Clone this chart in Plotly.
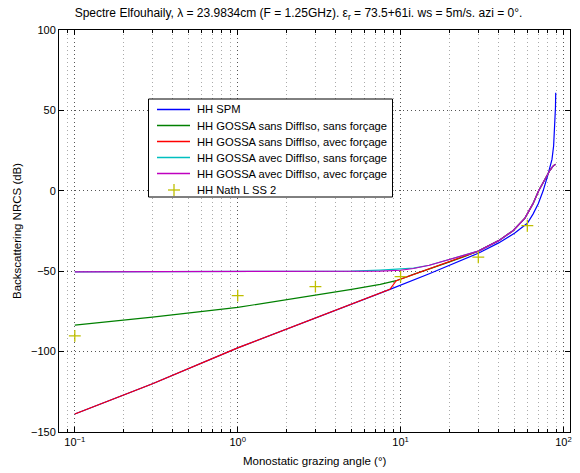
import plotly.graph_objects as go

# HH SPM
spm_angle = [0.1, 0.3, 1, 3, 8.6, 15, 20, 30, 40, 50, 60, 65, 70, 75, 80, 83, 85, 87, 88.5, 89.3, 89.6]
spm_nrcs = [-138.8, -120.0, -97.7, -79.3, -61.3, -51.6, -46.4, -38.8, -32.4, -26.4, -20.2,
            -14.5, -8.0, 0.0, 9.5, 15.0, 19.5, 28.0, 40.0, 52.0, 61.0]

# GOSSA with diffuse iso, forced (upper curve)
avec_angle = [0.1, 1, 3, 5, 7.5, 10, 12, 15, 19, 25, 30, 40, 49, 58, 65, 70.4, 76.8, 80, 82.4, 86, 89.3]
avec_nrcs = [-50.4, -50.4, -50.3, -50.2, -50.0, -49.4, -48.3, -46.3, -43.4, -40.0, -37.5,
             -31.0, -24.8, -17.0, -8.0, 0.0, 7.1, 10.3, 12.6, 15.2, 16.5]

# GOSSA with diffuse iso, not forced (differs only around 5-12 deg)
avec_sf_angle = [0.1, 1, 3, 5, 7.5, 9, 10, 12, 15]
avec_sf_nrcs = [-50.4, -50.4, -50.3, -50.0, -49.3, -48.9, -48.7, -48.1, -46.3]

# GOSSA without diffuse iso, not forced
sans_angle = [0.1, 0.3, 1, 3, 5, 7.5, 9.4, 12, 15, 19, 25]
sans_nrcs = [-83.5, -78.6, -72.5, -65.0, -61.3, -58.2, -55.9, -52.0, -48.8, -45.0, -40.6]

# GOSSA without diffuse iso, forced to SPM at low angles
force_angle = [0.1, 0.3, 1, 3, 8.6, 9.4, 12, 15, 19, 25]
force_nrcs = [-138.8, -120.0, -97.7, -79.3, -61.3, -55.9, -52.0, -48.8, -45.0, -40.6]

# Nath L SS 2 reference points
nath_angle = [0.1, 1, 3, 10, 30, 60]
nath_nrcs = [-90.2, -65.2, -59.6, -53.4, -41.3, -21.7]

# common tail above 30 deg
tail_angle = avec_angle[10:]
tail_nrcs = avec_nrcs[10:]

names = ["HH SPM",
         "HH GOSSA sans DiffIso, sans forçage",
         "HH GOSSA sans DiffIso, avec forçage",
         "HH GOSSA avec DiffIso, sans forçage",
         "HH GOSSA avec DiffIso, avec forçage",
         "HH Nath L SS 2"]
colors = ["#0000ff", "#008000", "#ff0000", "#00bfbf", "#bf00bf", "#bfbf00"]

FONT = "Liberation Sans, Arial, Helvetica, sans-serif"

# plot area in pixels (for the hand-made legend and axis titles)
L, R, T, B = 59, 570, 30, 432


def px(x):
    return (x - L) / (R - L)


def py(y):
    return (B - y) / (B - T)


fig = go.Figure()
series = [
    (spm_angle, spm_nrcs),
    (sans_angle + tail_angle, sans_nrcs + tail_nrcs),
    (force_angle + tail_angle, force_nrcs + tail_nrcs),
    (avec_sf_angle + avec_angle[8:], avec_sf_nrcs + avec_nrcs[8:]),
    (avec_angle, avec_nrcs),
]
for (xs, ys), name, col in zip(series, names, colors):
    fig.add_trace(go.Scatter(x=xs, y=ys, mode="lines", name=name,
                             line=dict(color=col, width=1.2)))
fig.add_trace(go.Scatter(x=nath_angle, y=nath_nrcs, mode="markers", name=names[5],
                         marker=dict(symbol="cross-thin", size=8.5,
                                     line=dict(color=colors[5], width=1.3))))

minor_vals = [m * 10 ** e for e in (-2, -1, 0, 1) for m in range(2, 10)]

fig.update_xaxes(
    type="log", range=[-1.097, 2.04],
    tickvals=[0.1, 1, 10, 100],
    ticktext=["10<sup>−1</sup>", "10<sup>0</sup>", "10<sup>1</sup>", "10<sup>2</sup>"],
    ticks="inside", ticklen=5, tickcolor="black",
    showline=True, linecolor="black", linewidth=1, mirror="ticks",
    showgrid=True, gridcolor="#555555", griddash="1px,3px", gridwidth=1,
    minor=dict(tickvals=minor_vals, ticks="inside", ticklen=3, tickcolor="black",
               showgrid=True, gridcolor="#aaaaaa", griddash="1px,3px", gridwidth=1),
    zeroline=False, automargin=False,
    tickfont=dict(size=11, family=FONT, color="black"),
)
fig.update_yaxes(
    range=[-150, 100], tickvals=[-150, -100, -50, 0, 50, 100],
    ticks="inside", ticklen=5, tickcolor="black",
    showline=True, linecolor="black", linewidth=1, mirror="ticks",
    showgrid=True, gridcolor="#555555", griddash="1px,3px", gridwidth=1,
    zeroline=False, automargin=False,
    tickfont=dict(size=11, family=FONT, color="black"),
)

# axis titles
fig.add_annotation(text="Monostatic grazing angle (°)", xref="paper", yref="paper",
                   x=0.5, y=py(461), xanchor="center", yanchor="middle", showarrow=False,
                   font=dict(size=11.5, family=FONT, color="black"))
fig.add_annotation(text="Backscattering NRCS (dB)", xref="paper", yref="paper",
                   x=px(17), y=0.5, xanchor="center", yanchor="middle", showarrow=False,
                   textangle=-90, font=dict(size=11.5, family=FONT, color="black"))

# legend drawn by hand (Matlab style, tight rows)
box = dict(x0=px(148.5), x1=px(392.5), y0=py(99), y1=py(197))
fig.add_shape(type="rect", xref="paper", yref="paper", **box,
              fillcolor="white", line=dict(color="black", width=1), layer="above")
rows = [109.5, 125.5, 141.5, 157.5, 173.5, 190.0]
for i, (name, col) in enumerate(zip(names, colors)):
    yc = py(rows[i])
    if i < 5:
        fig.add_shape(type="line", xref="paper", yref="paper", x0=px(157), x1=px(190),
                      y0=yc, y1=yc, line=dict(color=col, width=1.5), layer="above")
    else:
        fig.add_shape(type="line", xref="paper", yref="paper", x0=px(168), x1=px(180),
                      y0=yc, y1=yc, line=dict(color=col, width=1.3), layer="above")
        fig.add_shape(type="line", xref="paper", yref="paper", x0=px(174), x1=px(174),
                      y0=py(rows[i] - 6), y1=py(rows[i] + 6), line=dict(color=col, width=1.3),
                      layer="above")
    fig.add_annotation(text=name, xref="paper", yref="paper", x=px(195), y=yc,
                       xanchor="left", yanchor="middle", showarrow=False,
                       font=dict(size=11.2, family=FONT, color="black"))

fig.update_layout(
    width=580, height=473,
    margin=dict(l=L, r=580 - R, t=T, b=473 - B),
    paper_bgcolor="white", plot_bgcolor="white",
    showlegend=False,
    title=dict(
        text="Spectre Elfouhaily, λ = 23.9834cm (F = 1.25GHz). ε<sub>r</sub> = 73.5+61i. ws = 5m/s. azi = 0°.",
        x=298.5 / 580, xanchor="center", y=1 - 13 / 473, yanchor="middle", yref="container",
        font=dict(size=12, family=FONT, color="black"),
    ),
    font=dict(family=FONT),
)

# drop the default page margin so the figure sits at the window's corner
fig.write_html("out.html", config={"displayModeBar": False},
               post_script="document.body.style.margin='0';")
